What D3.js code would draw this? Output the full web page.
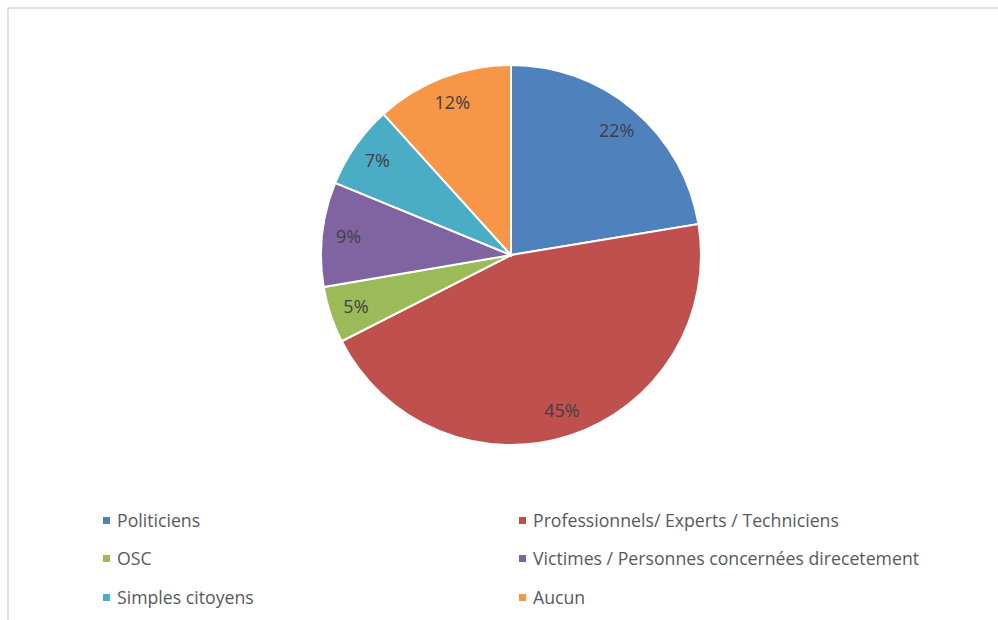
<!DOCTYPE html>
<html>
<head>
<meta charset="utf-8">
<script src="https://cdn.jsdelivr.net/npm/d3@7"></script>
<style>
  body { margin: 0; background: #fff; }
  text { font-family: "Open Sans", "Noto Sans", sans-serif; }
</style>
</head>
<body>
<div id="chart"></div>
<script>
var svgwidth = 998;
var svgheight = 620;

var categories = ["Politiciens", "Professionnels/ Experts / Techniciens", "OSC",
                  "Victimes / Personnes concernées direcetement", "Simples citoyens", "Aucun"];
// shares (labels show them rounded)
var values = [22.4, 45.1, 4.8, 8.9, 7.1, 11.7];
var colors = ["#4F81BD", "#C0504D", "#9BBB59", "#8064A2", "#4BACC6", "#F79646"];

var cx = 511, cy = 255, radius = 190;

var svg = d3.select("#chart")
    .append("svg")
    .attr("width", svgwidth)
    .attr("height", svgheight);

// chart border
svg.append("rect")
    .attr("x", 8)
    .attr("y", 8)
    .attr("width", svgwidth)
    .attr("height", svgheight)
    .attr("fill", "none")
    .attr("stroke", "#d9d9d9")
    .attr("stroke-width", 1.5);

var total = d3.sum(values);
var data = categories.map(function(c, i) {
    return { name: c, value: values[i], color: colors[i] };
});

var pie = d3.pie()
    .sort(null)
    .value(function(d) { return d.value; });

var arc = d3.arc().innerRadius(0).outerRadius(radius);
var labelArc = d3.arc().innerRadius(radius * 0.86).outerRadius(radius * 0.86);

var chart = svg.append("g").attr("transform", `translate(${cx}, ${cy})`);

var slices = chart.selectAll("g.slice")
    .data(pie(data))
    .enter()
    .append("g")
    .attr("class", "slice");

slices.append("path")
    .attr("d", arc)
    .attr("fill", function(d) { return d.data.color; })
    .attr("stroke", "#fff")
    .attr("stroke-width", 2);

slices.append("text")
    .attr("transform", function(d) { return `translate(${labelArc.centroid(d)})`; })
    .attr("text-anchor", "middle")
    .attr("dy", "0.35em")
    .attr("fill", "#404040")
    .style("font-size", "18px")
    .text(function(d) { return Math.round(d.data.value / total * 100) + "%"; });

// legend: two columns, three rows
var legend = svg.append("g");
var colX = [103, 519];
var rowY = [521, 559, 598];

var items = legend.selectAll("g.item")
    .data(data)
    .enter()
    .append("g")
    .attr("class", "item")
    .attr("transform", function(d, i) {
        return `translate(${colX[i % 2]}, ${rowY[Math.floor(i / 2)]})`;
    });

items.append("rect")
    .attr("x", 0)
    .attr("y", -4)
    .attr("width", 7)
    .attr("height", 7)
    .attr("fill", function(d) { return d.color; });

items.append("text")
    .attr("x", 14)
    .attr("dy", "0.35em")
    .attr("fill", "#595959")
    .style("font-size", "17.7px")
    .text(function(d) { return d.name; });
</script>
</body>
</html>
